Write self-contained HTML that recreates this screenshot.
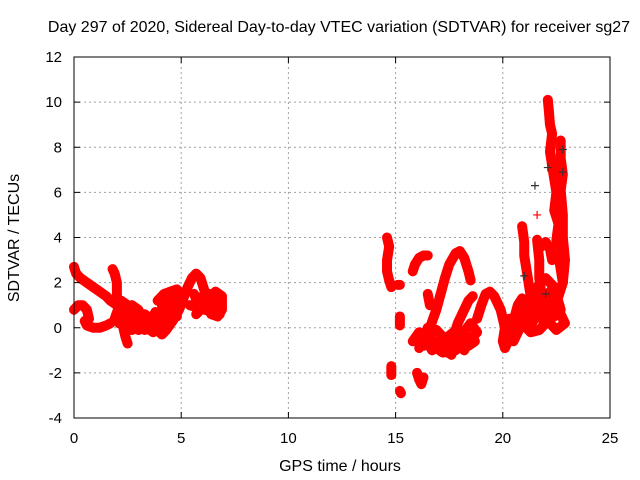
<!DOCTYPE html>
<html><head><meta charset="utf-8"><style>
body{margin:0;background:#fff;}
svg{display:block;font-family:"Liberation Sans",Arial,sans-serif;}
</style></head><body>
<svg id="chart" width="640" height="480" xmlns="http://www.w3.org/2000/svg">
<text x="339" y="32" font-size="16" text-anchor="middle">Day 297 of 2020, Sidereal Day-to-day VTEC variation (SDTVAR) for receiver sg27</text>
<text x="340" y="471" font-size="16" text-anchor="middle">GPS time / hours</text>
<text transform="translate(19,238) rotate(-90)" font-size="16" text-anchor="middle">SDTVAR / TECUs</text>
<g id="grid"></g><g id="marks"></g><g id="axes"></g>
</svg>
<script>
const xTicks=[0,5,10,15,20,25];
const yTicks=[-4,-2,0,2,4,6,8,10,12];
const redTracks=[
[[0,2.7],[0.1,2.4],[0.3,2.2],[0.6,2.0],[0.9,1.8],[1.2,1.6],[1.5,1.4],[1.7,1.2],[2.0,1.0],[2.3,0.8],[2.6,0.6],[3.0,0.5],[3.3,0.3],[3.6,0.1],[3.9,-0.1],[4.1,-0.3],[4.3,-0.1],[4.6,0.3],[4.9,0.8],[5.1,1.3],[5.3,1.8],[5.5,2.2],[5.7,2.4],[5.9,2.2],[6.1,1.6],[6.2,1.0],[6.4,0.6],[6.7,0.5],[6.9,0.8],[6.9,1.4],[6.6,1.6],[6.3,1.3],[6.0,0.9],[5.7,0.6]],
[[0,0.8],[0.2,1.0],[0.4,1.0],[0.6,0.8],[0.7,0.4],[0.5,0.3],[0.6,0.1],[0.9,0],[1.2,0],[1.5,0.1],[1.7,0.2]],
[[1.8,2.6],[1.9,2.4],[2.0,2.0],[2.0,1.4],[2.1,1.0],[2.2,0.6],[2.3,0.0],[2.4,-0.4],[2.5,-0.7]],
[[1.9,0.4],[2.2,1.2],[2.5,1.0],[2.7,0.3],[3.0,-0.1],[3.3,0.6],[3.6,0.3],[3.8,0.7],[4.0,0.3],[3.7,-0.2],[3.4,0.0],[3.0,0.8],[2.7,1.0]],
[[2.1,0.2],[2.4,0.5],[2.7,-0.1],[3.0,0.2],[3.3,-0.1],[3.6,0.5],[3.9,0.0],[4.2,0.4],[4.5,0.9],[4.8,0.5]],
[[3.9,1.2],[4.2,1.5],[4.5,1.6],[4.8,1.7],[5.0,1.5],[4.7,1.2],[4.4,1.3],[4.1,1.0],[4.3,0.5]],
[[5.6,1.5],[5.8,1.0],[6.0,1.4],[6.3,1.5],[6.5,1.2],[6.7,1.0],[6.8,0.6],[5.4,1.0]],
[[14.6,4.0],[14.7,3.6],[14.6,3.0],[14.6,2.5],[14.7,2.1],[14.8,1.8]],
[[14.8,-1.7],[14.8,-2.1]],
[[15.2,-2.8],[15.25,-2.9]],
[[15.2,0.5],[15.2,0.1]],
[[15.1,1.9],[15.2,1.9]],
[[15.8,2.5],[15.9,2.8],[16.1,3.1],[16.3,3.2],[16.5,3.2]],
[[16.0,-2.0],[16.1,-2.3],[16.2,-2.5],[16.3,-2.2]],
[[16.5,1.5],[16.6,1.0]],
[[15.8,-0.6],[16.1,-0.2],[16.4,-0.5],[16.7,-1.0],[17.0,-0.6],[17.3,-0.9],[17.6,-1.2],[17.9,-0.6],[18.2,-1.0],[18.5,-0.5],[18.8,-0.2],[18.5,0.2],[18.1,-0.3],[17.7,-0.2],[17.3,-0.5],[16.9,-0.1],[16.5,0.0],[16.1,-0.9]],
[[16.0,-0.4],[16.3,-0.8],[16.6,-0.4],[16.9,-0.9],[17.2,-1.1],[17.5,-0.7],[17.8,-1.0],[18.1,-0.5],[18.4,-0.8],[18.7,-0.6]],
[[16.6,0.0],[16.9,0.8],[17.1,1.5],[17.3,2.2],[17.5,2.8],[17.8,3.3],[18.0,3.4],[18.2,3.1],[18.4,2.5],[18.5,2.1]],
[[17.4,-1.1],[17.7,-0.4],[17.9,0.2],[18.2,0.8],[18.4,1.2],[18.6,1.4]],
[[18.8,0.4],[19.0,1.0],[19.2,1.5],[19.4,1.6],[19.6,1.4],[19.9,0.8],[20.1,0.0],[20.0,-0.6],[20.1,-0.9],[20.3,-0.5],[20.5,0.3],[20.7,1.0],[20.9,1.3]],
[[20.2,-0.3],[20.6,0.2],[21.0,0.5],[21.3,0.1],[21.6,0.6],[21.9,1.2],[22.2,1.6],[22.5,1.0],[22.8,0.4],[22.9,0.2],[22.5,-0.1],[22.1,0.3],[21.7,-0.1],[21.3,-0.2],[20.9,0.2],[20.5,-0.6]],
[[20.3,0.4],[20.6,-0.3],[20.9,0.8],[21.2,0.6],[21.5,1.2],[21.8,0.6],[22.1,1.0],[22.4,0.5],[22.7,0.8],[22.4,1.8],[22.0,2.2],[21.6,1.8],[21.2,1.2],[20.8,0.0]],
[[20.9,4.5],[21.0,3.8],[21.0,3.2],[21.1,2.6],[21.2,2.0],[21.3,1.4]],
[[21.6,3.9],[21.7,3.0],[21.7,2.2],[21.8,1.5],[21.9,0.8],[21.9,0.2]],
[[22.1,10.1],[22.15,9.6],[22.2,9.0],[22.3,8.6],[22.2,7.8],[22.3,7.2],[22.4,6.6],[22.5,6.0],[22.4,5.2],[22.6,4.6],[22.5,3.9],[22.6,3.2],[22.7,2.6],[22.8,2.0],[22.6,1.4]],
[[22.7,8.3],[22.7,7.5],[22.8,6.8],[22.7,6.1],[22.8,5.0],[22.8,4.0],[22.9,3.0],[22.8,2.0]],
[[21.8,3.6],[22.0,3.8],[22.2,3.5],[22.3,3.0]],
[[21.6,5.0]]
];
const blackPoints=[[21.5,6.3],[22.1,7.1],[22.8,7.9],[22.8,6.9],[21.0,2.3],[22.0,1.5]];

const L=74,R=610,T=57,B=418;
const xS=v=>L+(v-0)/(25-0)*(R-L);
const yS=v=>B-(v+4)/16*(B-T);
const NS='http://www.w3.org/2000/svg';
function mk(tag,attrs,parent){const e=document.createElementNS(NS,tag);for(const k in attrs)e.setAttribute(k,attrs[k]);parent.appendChild(e);return e;}
const grid=document.getElementById('grid'),marks=document.getElementById('marks'),axes=document.getElementById('axes');
xTicks.forEach(t=>{
  const x=xS(t);
  if(t>0&&t<25){const g=mk('line',{x1:x,x2:x,y1:T,y2:B,stroke:'#a0a0a0','stroke-dasharray':'2,3'},grid);
  
  }
  mk('line',{x1:x,x2:x,y1:B,y2:B-6,stroke:'#000'},axes);
  mk('line',{x1:x,x2:x,y1:T,y2:T+6,stroke:'#000'},axes);
  const tx=mk('text',{x:x,y:B+25,'font-size':15,'text-anchor':'middle'},axes);tx.textContent=t;
  
  
});
yTicks.forEach(t=>{
  const y=yS(t);
  if(t>-4&&t<12){const g=mk('line',{x1:L,x2:R,y1:y,y2:y,stroke:'#a0a0a0','stroke-dasharray':'2,3'},grid);
  
  }
  mk('line',{x1:L,x2:L+6,y1:y,y2:y,stroke:'#000'},axes);
  mk('line',{x1:R,x2:R-6,y1:y,y2:y,stroke:'#000'},axes);
  const tx=mk('text',{x:L-12,y:y+5,'font-size':15,'text-anchor':'end'},axes);tx.textContent=t;
  
  
});
const fr=mk('rect',{x:L,y:T,width:R-L,height:B-T,fill:'none',stroke:'#000'},axes);


function plus(x,y,c,parent){mk('path',{d:`M${x-4},${y}h8M${x},${y-4}v8`,stroke:c,'stroke-width':1.2,fill:'none'},parent);}
redTracks.forEach(tr=>{
  const g=mk('g',{},marks);
  
  
  if(tr.length>1){
    mk('path',{d:tr.map((p,i)=>(i?'L':'M')+xS(p[0])+','+yS(p[1])).join(''),stroke:'#ff0000','stroke-width':10,fill:'none','stroke-linejoin':'round','stroke-linecap':'round'},g);
  }
  tr.forEach(p=>plus(xS(p[0]),yS(p[1]),'#ff0000',g));
});
blackPoints.forEach(p=>{
  const g=mk('g',{},marks);
  
  
  plus(xS(p[0]),yS(p[1]),'#333',g);
});
</script>
</body></html>
